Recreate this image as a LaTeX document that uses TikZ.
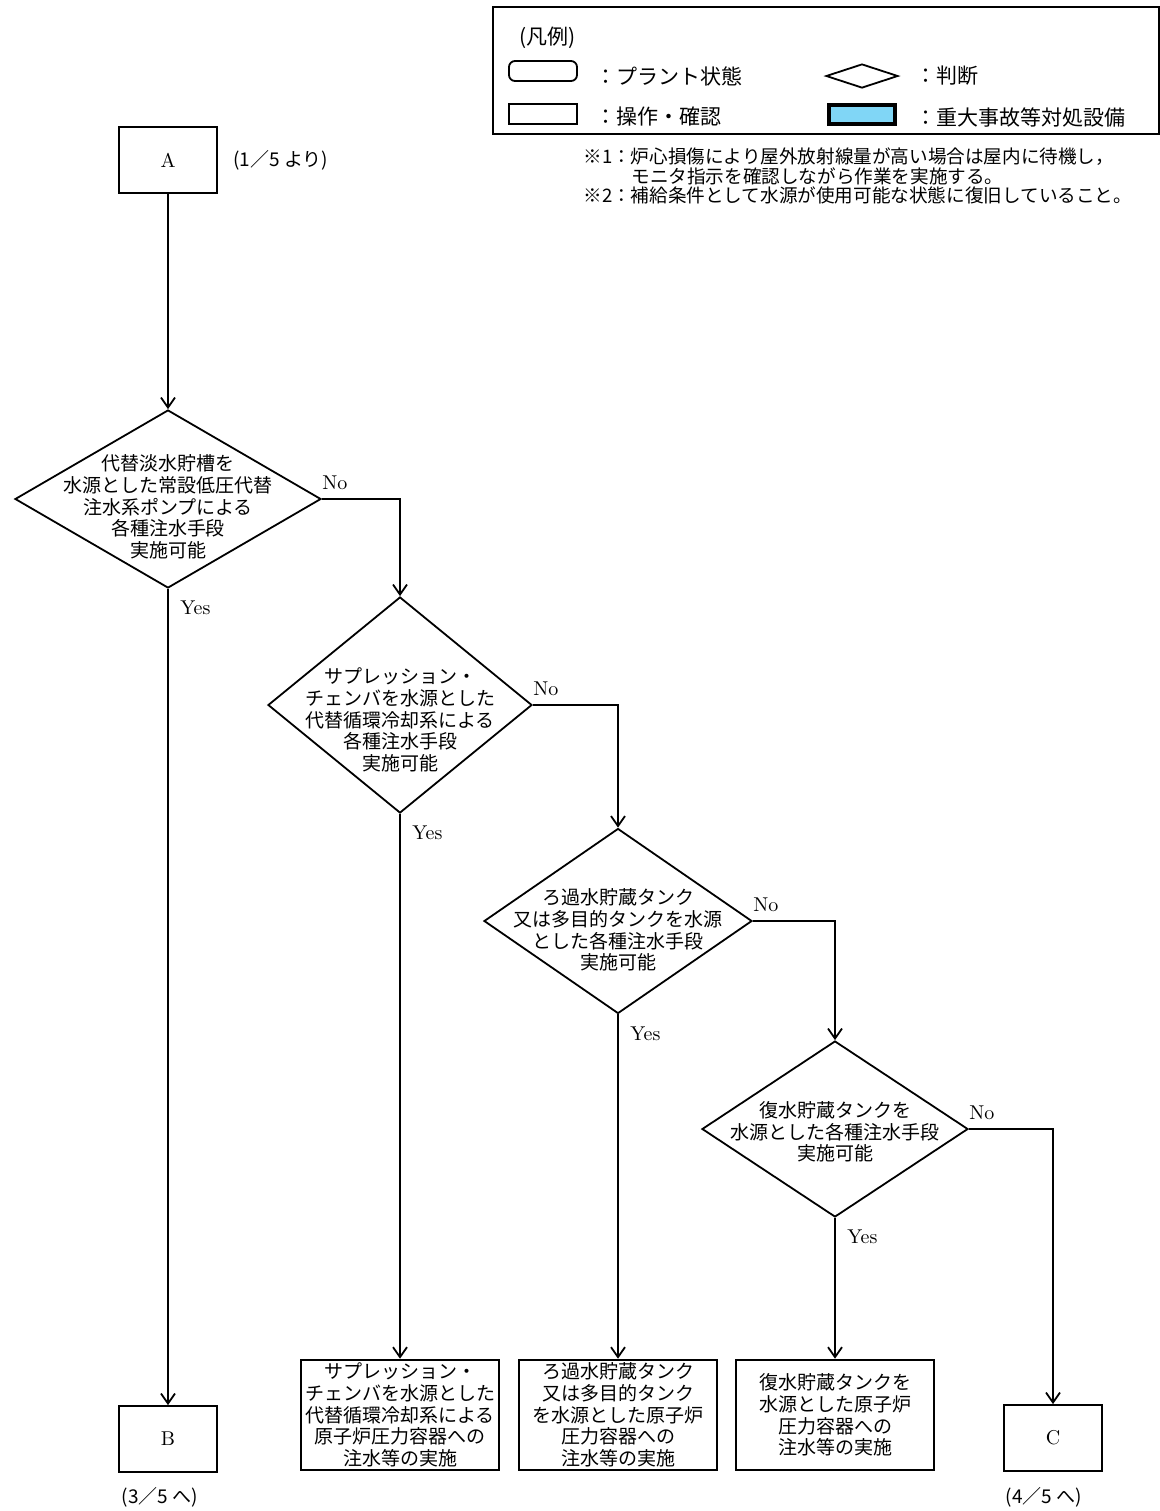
\documentclass[tikz,border=0pt]{standalone}
\usepackage{fontspec}
\newfontfamily\jpfont{Noto Sans CJK JP}
\usepackage{tikz}
\usetikzlibrary{positioning, arrows.meta, shapes.geometric}
\definecolor{sablue}{RGB}{128,214,246}

\begin{document}
\begin{tikzpicture}[x=0.5pt, y=-0.5pt,
    flow/.style={line width=0.9pt, -{Straight Barb[length=5pt,width=7pt]}},
    judge/.style={draw, line width=0.9pt, shape=diamond, inner sep=0pt},
    jtxt/.style={align=center, inner sep=0pt, font=\jpfont\fontsize{9.5}{10.85}\selectfont},
    opbox/.style={draw, line width=1.3pt, inner sep=0pt, minimum width=99pt, minimum height=55pt,
      align=center, font=\jpfont\fontsize{9.5}{10.85}\selectfont},
    link/.style={draw, line width=0.9pt, minimum width=49pt, minimum height=33pt, font=\fontsize{10}{12}\selectfont},
    yn/.style={inner sep=0pt, font=\fontsize{10}{12}\selectfont},
    lgd/.style={inner sep=0pt, anchor=west, font=\jpfont\fontsize{10.5}{12}\selectfont},
    note/.style={inner sep=0pt, anchor=west, font=\jpfont\fontsize{9.3}{11}\selectfont}]
  \useasboundingbox (0,0) rectangle (1160,1511);

  \draw[line width=0.75pt] (493,7) rectangle (1159,134);
  \node[lgd] (lgdtitle) at (519,38) {(凡例)};
  \node[draw, line width=0.9pt, rounded corners=3pt, minimum width=34pt, minimum height=10pt] (lgdstate) at (543,71) {};
  \node[lgd] (lgdstatetxt) at (595,76) {：プラント状態};
  \node[judge, minimum width=36pt, minimum height=12pt] (lgdjudge) at (862,76) {};
  \node[lgd] (lgdjudgetxt) at (915,76) {：判断};
  \node[draw, line width=0.9pt, minimum width=34pt, minimum height=10pt] (lgdop) at (543,114) {};
  \node[lgd] (lgdoptxt) at (595,117) {：操作・確認};
  \node[draw, line width=2pt, fill=sablue, minimum width=33pt, minimum height=9.5pt] (lgdsa) at (862,114) {};
  \node[lgd] (lgdsatxt) at (915,117) {：重大事故等対処設備};

  \node[note] (note1) at (583,157) {※1：炉心損傷により屋外放射線量が高い場合は屋内に待機し，};
  \node[note] (note1b) at (631,176) {モニタ指示を確認しながら作業を実施する。};
  \node[note] (note2) at (583,195) {※2：補給条件として水源が使用可能な状態に復旧していること。};

  \node[link] (a) at (168,160) {A};
  \node[jtxt, anchor=west] (afrom) at (233,160) {(1／5 より)};

  \node[judge, minimum width=153pt, minimum height=89pt] (d1) at (168,499) {};
  \node[jtxt] (d1txt) at (168,507) {代替淡水貯槽を\\水源とした常設低圧代替\\注水系ポンプによる\\各種注水手段\\実施可能};
  \node[judge, minimum width=132pt, minimum height=108pt] (d2) at (400,705) {};
  \node[jtxt] (d2txt) at (400,720) {サプレッション・\\チェンバを水源とした\\代替循環冷却系による\\各種注水手段\\実施可能};
  \node[judge, minimum width=134pt, minimum height=92.5pt] (d3) at (618,921) {};
  \node[jtxt] (d3txt) at (618,930) {ろ過水貯蔵タンク\\又は多目的タンクを水源\\とした各種注水手段\\実施可能};
  \node[judge, minimum width=133pt, minimum height=88pt] (d4) at (835,1129) {};
  \node[jtxt] (d4txt) at (835,1132) {復水貯蔵タンクを\\水源とした各種注水手段\\実施可能};

  \node[link] (b) at (168,1439) {B};
  \node[jtxt] (bto) at (160,1497) {(3／5 へ)};
  \node[opbox] (s1) at (400,1415) {サプレッション・\\チェンバを水源とした\\代替循環冷却系による\\原子炉圧力容器への\\注水等の実施};
  \node[opbox] (s2) at (618,1415) {ろ過水貯蔵タンク\\又は多目的タンク\\を水源とした原子炉\\圧力容器への\\注水等の実施};
  \node[opbox] (s3) at (835,1415) {復水貯蔵タンクを\\水源とした原子炉\\圧力容器への\\注水等の実施};
  \node[link] (c) at (1053,1438) {C};
  \node[jtxt] (cto) at (1044,1497) {(4／5 へ)};

  \draw[flow] (a.south) -- (d1.north);
  \draw[flow] (d1.south) -- (b.north);
  \draw[flow] (d1.east) -| (d2.north);
  \draw[flow] (d2.south) -- (s1.north);
  \draw[flow] (d2.east) -| (d3.north);
  \draw[flow] (d3.south) -- (s2.north);
  \draw[flow] (d3.east) -| (d4.north);
  \draw[flow] (d4.south) -- (s3.north);
  \draw[flow] (d4.east) -| (c.north);

  \node[yn, anchor=base west, yshift=5pt] (no1) at (d1.east) {No};
  \node[yn, anchor=base west, xshift=6pt, yshift=-13pt] (yes1) at (d1.south) {Yes};
  \node[yn, anchor=base west, yshift=5pt] (no2) at (d2.east) {No};
  \node[yn, anchor=base west, xshift=6pt, yshift=-13pt] (yes2) at (d2.south) {Yes};
  \node[yn, anchor=base west, yshift=5pt] (no3) at (d3.east) {No};
  \node[yn, anchor=base west, xshift=6pt, yshift=-13pt] (yes3) at (d3.south) {Yes};
  \node[yn, anchor=base west, yshift=5pt] (no4) at (d4.east) {No};
  \node[yn, anchor=base west, xshift=6pt, yshift=-13pt] (yes4) at (d4.south) {Yes};
\end{tikzpicture}
\end{document}
